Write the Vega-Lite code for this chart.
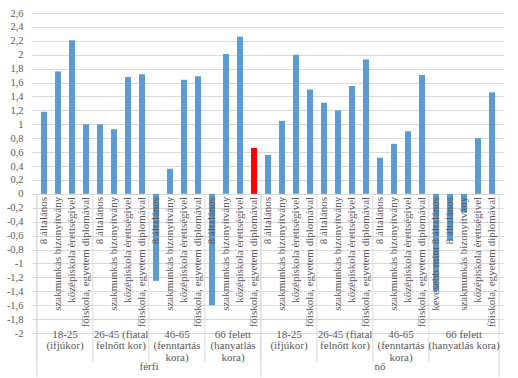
{
  "$schema": "https://vega.github.io/schema/vega-lite/v6.json",
  "width": 472,
  "height": 320,
  "autosize": {"type": "none"},
  "padding": {"left": 32, "top": 13, "right": 14, "bottom": 45},
  "background": "white",
  "config": {
    "view": {"stroke": null},
    "font": "Liberation Serif",
    "text": {"font": "Liberation Serif"}
  },
  "data": {
    "values": [
      {"idx": 0, "gender": "férfi", "age": "18-25", "group": "18-25\n(ifjúkor)", "edu": "8 általános", "value": 1.18, "kiemelt": "nem"},
      {"idx": 1, "gender": "férfi", "age": "18-25", "group": "18-25\n(ifjúkor)", "edu": "szakmunkás bizonyítvány", "value": 1.76, "kiemelt": "nem"},
      {"idx": 2, "gender": "férfi", "age": "18-25", "group": "18-25\n(ifjúkor)", "edu": "középiskola érettségivel", "value": 2.21, "kiemelt": "nem"},
      {"idx": 3, "gender": "férfi", "age": "18-25", "group": "18-25\n(ifjúkor)", "edu": "főiskola, egyetem diplomával", "value": 1.0, "kiemelt": "nem"},
      {"idx": 4, "gender": "férfi", "age": "26-45", "group": "26-45 (fiatal\nfelnőtt kor)", "edu": "8 általános", "value": 1.0, "kiemelt": "nem"},
      {"idx": 5, "gender": "férfi", "age": "26-45", "group": "26-45 (fiatal\nfelnőtt kor)", "edu": "szakmunkás bizonyítvány", "value": 0.93, "kiemelt": "nem"},
      {"idx": 6, "gender": "férfi", "age": "26-45", "group": "26-45 (fiatal\nfelnőtt kor)", "edu": "középiskola érettségivel", "value": 1.68, "kiemelt": "nem"},
      {"idx": 7, "gender": "férfi", "age": "26-45", "group": "26-45 (fiatal\nfelnőtt kor)", "edu": "főiskola, egyetem diplomával", "value": 1.72, "kiemelt": "nem"},
      {"idx": 8, "gender": "férfi", "age": "46-65", "group": "46-65\n(fenntartás\nkora)", "edu": "8 általános", "value": -1.25, "kiemelt": "nem"},
      {"idx": 9, "gender": "férfi", "age": "46-65", "group": "46-65\n(fenntartás\nkora)", "edu": "szakmunkás bizonyítvány", "value": 0.36, "kiemelt": "nem"},
      {"idx": 10, "gender": "férfi", "age": "46-65", "group": "46-65\n(fenntartás\nkora)", "edu": "középiskola érettségivel", "value": 1.64, "kiemelt": "nem"},
      {"idx": 11, "gender": "férfi", "age": "46-65", "group": "46-65\n(fenntartás\nkora)", "edu": "főiskola, egyetem diplomával", "value": 1.69, "kiemelt": "nem"},
      {"idx": 12, "gender": "férfi", "age": "66 felett", "group": "66 felett\n(hanyatlás\nkora)", "edu": "8 általános", "value": -1.6, "kiemelt": "nem"},
      {"idx": 13, "gender": "férfi", "age": "66 felett", "group": "66 felett\n(hanyatlás\nkora)", "edu": "szakmunkás bizonyítvány", "value": 2.01, "kiemelt": "nem"},
      {"idx": 14, "gender": "férfi", "age": "66 felett", "group": "66 felett\n(hanyatlás\nkora)", "edu": "középiskola érettségivel", "value": 2.26, "kiemelt": "nem"},
      {"idx": 15, "gender": "férfi", "age": "66 felett", "group": "66 felett\n(hanyatlás\nkora)", "edu": "főiskola, egyetem diplomával", "value": 0.66, "kiemelt": "igen"},
      {"idx": 16, "gender": "nő", "age": "18-25", "group": "18-25\n(ifjúkor)", "edu": "8 általános", "value": 0.56, "kiemelt": "nem"},
      {"idx": 17, "gender": "nő", "age": "18-25", "group": "18-25\n(ifjúkor)", "edu": "szakmunkás bizonyítvány", "value": 1.05, "kiemelt": "nem"},
      {"idx": 18, "gender": "nő", "age": "18-25", "group": "18-25\n(ifjúkor)", "edu": "középiskola érettségivel", "value": 2.0, "kiemelt": "nem"},
      {"idx": 19, "gender": "nő", "age": "18-25", "group": "18-25\n(ifjúkor)", "edu": "főiskola, egyetem diplomával", "value": 1.5, "kiemelt": "nem"},
      {"idx": 20, "gender": "nő", "age": "26-45", "group": "26-45 (fiatal\nfelnőtt kor)", "edu": "8 általános", "value": 1.31, "kiemelt": "nem"},
      {"idx": 21, "gender": "nő", "age": "26-45", "group": "26-45 (fiatal\nfelnőtt kor)", "edu": "szakmunkás bizonyítvány", "value": 1.2, "kiemelt": "nem"},
      {"idx": 22, "gender": "nő", "age": "26-45", "group": "26-45 (fiatal\nfelnőtt kor)", "edu": "középiskola érettségivel", "value": 1.55, "kiemelt": "nem"},
      {"idx": 23, "gender": "nő", "age": "26-45", "group": "26-45 (fiatal\nfelnőtt kor)", "edu": "főiskola, egyetem diplomával", "value": 1.93, "kiemelt": "nem"},
      {"idx": 24, "gender": "nő", "age": "46-65", "group": "46-65\n(fenntartás\nkora)", "edu": "8 általános", "value": 0.52, "kiemelt": "nem"},
      {"idx": 25, "gender": "nő", "age": "46-65", "group": "46-65\n(fenntartás\nkora)", "edu": "szakmunkás bizonyítvány", "value": 0.72, "kiemelt": "nem"},
      {"idx": 26, "gender": "nő", "age": "46-65", "group": "46-65\n(fenntartás\nkora)", "edu": "középiskola érettségivel", "value": 0.9, "kiemelt": "nem"},
      {"idx": 27, "gender": "nő", "age": "46-65", "group": "46-65\n(fenntartás\nkora)", "edu": "főiskola, egyetem diplomával", "value": 1.71, "kiemelt": "nem"},
      {"idx": 28, "gender": "nő", "age": "66 felett", "group": "66 felett\n(hanyatlás kora)", "edu": "kevesebb mint 8 általános", "value": -1.4, "kiemelt": "nem"},
      {"idx": 29, "gender": "nő", "age": "66 felett", "group": "66 felett\n(hanyatlás kora)", "edu": "8 általános", "value": -0.67, "kiemelt": "nem"},
      {"idx": 30, "gender": "nő", "age": "66 felett", "group": "66 felett\n(hanyatlás kora)", "edu": "szakmunkás bizonyítvány", "value": -0.27, "kiemelt": "nem"},
      {"idx": 31, "gender": "nő", "age": "66 felett", "group": "66 felett\n(hanyatlás kora)", "edu": "középiskola érettségivel", "value": 0.8, "kiemelt": "nem"},
      {"idx": 32, "gender": "nő", "age": "66 felett", "group": "66 felett\n(hanyatlás kora)", "edu": "főiskola, egyetem diplomával", "value": 1.46, "kiemelt": "nem"}
    ]
  },
  "encoding": {
    "x": {"field": "idx", "type": "quantitative", "scale": {"domain": [-0.5, 32.5], "nice": false, "zero": false}, "axis": null}
  },
  "layer": [
    {
      "mark": {"type": "bar", "size": 6, "opacity": 0},
      "encoding": {
        "y": {
          "field": "value", "type": "quantitative",
          "scale": {"domain": [-2, 2.6], "nice": false},
          "axis": {
            "title": null, "domain": false, "ticks": false,
            "values": [-2, -1.8, -1.6, -1.4, -1.2, -1, -0.8, -0.6, -0.4, -0.2, 0, 0.2, 0.4, 0.6, 0.8, 1, 1.2, 1.4, 1.6, 1.8, 2, 2.2, 2.4, 2.6],
            "tickCount": 40,
            "labelOverlap": false,
            "labelExpr": "replace(replace(format(datum.value, '.1~f'), '.', ','), '\u2212', '-')",
            "labelFont": "Liberation Serif", "labelFontSize": 10.5, "labelColor": "#595959", "labelPadding": 9,
            "gridColor": "#D9D9D9", "gridWidth": 1
          }
        }
      }
    },
    {
      "mark": {"type": "rule", "color": "#D9D9D9", "strokeWidth": 1, "xOffset": -7.15},
      "encoding": {
        "x": {"aggregate": "min", "field": "idx", "type": "quantitative"},
        "detail": [{"field": "gender"}, {"field": "age"}],
        "y": {"datum": 0},
        "y2": {"datum": -2.42}
      }
    },
    {
      "mark": {"type": "rule", "color": "#D9D9D9", "strokeWidth": 1, "xOffset": -7.15},
      "encoding": {
        "x": {"aggregate": "min", "field": "idx", "type": "quantitative"},
        "detail": {"field": "gender"},
        "y": {"datum": 0},
        "y2": {"datum": -2.64}
      }
    },
    {
      "mark": {"type": "rule", "color": "#D9D9D9", "strokeWidth": 1, "xOffset": 7.15},
      "encoding": {
        "x": {"aggregate": "max", "field": "idx", "type": "quantitative"},
        "y": {"datum": 0},
        "y2": {"datum": -2.64}
      }
    },
    {
      "mark": {"type": "bar", "size": 6},
      "encoding": {
        "y": {"field": "value", "type": "quantitative"},
        "color": {"field": "kiemelt", "type": "nominal", "scale": {"domain": ["nem", "igen"], "range": ["#5B9BD5", "#FF0000"]}, "legend": null}
      }
    },
    {
      "mark": {"type": "text", "angle": 270, "align": "right", "baseline": "middle", "dx": -3, "font": "Liberation Serif", "fontSize": 11, "color": "#595959"},
      "encoding": {
        "y": {"datum": 0},
        "text": {"field": "edu"}
      }
    },
    {
      "mark": {"type": "text", "align": "center", "baseline": "top", "lineBreak": "\n", "lineHeight": 11.5, "font": "Liberation Serif", "fontSize": 11, "color": "#595959"},
      "encoding": {
        "x": {"aggregate": "mean", "field": "idx", "type": "quantitative"},
        "detail": [{"field": "gender"}, {"field": "age"}],
        "y": {"datum": -1.94},
        "text": {"field": "group"}
      }
    },
    {
      "mark": {"type": "text", "align": "center", "baseline": "middle", "font": "Liberation Serif", "fontSize": 11, "color": "#595959"},
      "encoding": {
        "x": {"aggregate": "mean", "field": "idx", "type": "quantitative"},
        "y": {"datum": -2.49},
        "text": {"field": "gender"}
      }
    }
  ]
}
